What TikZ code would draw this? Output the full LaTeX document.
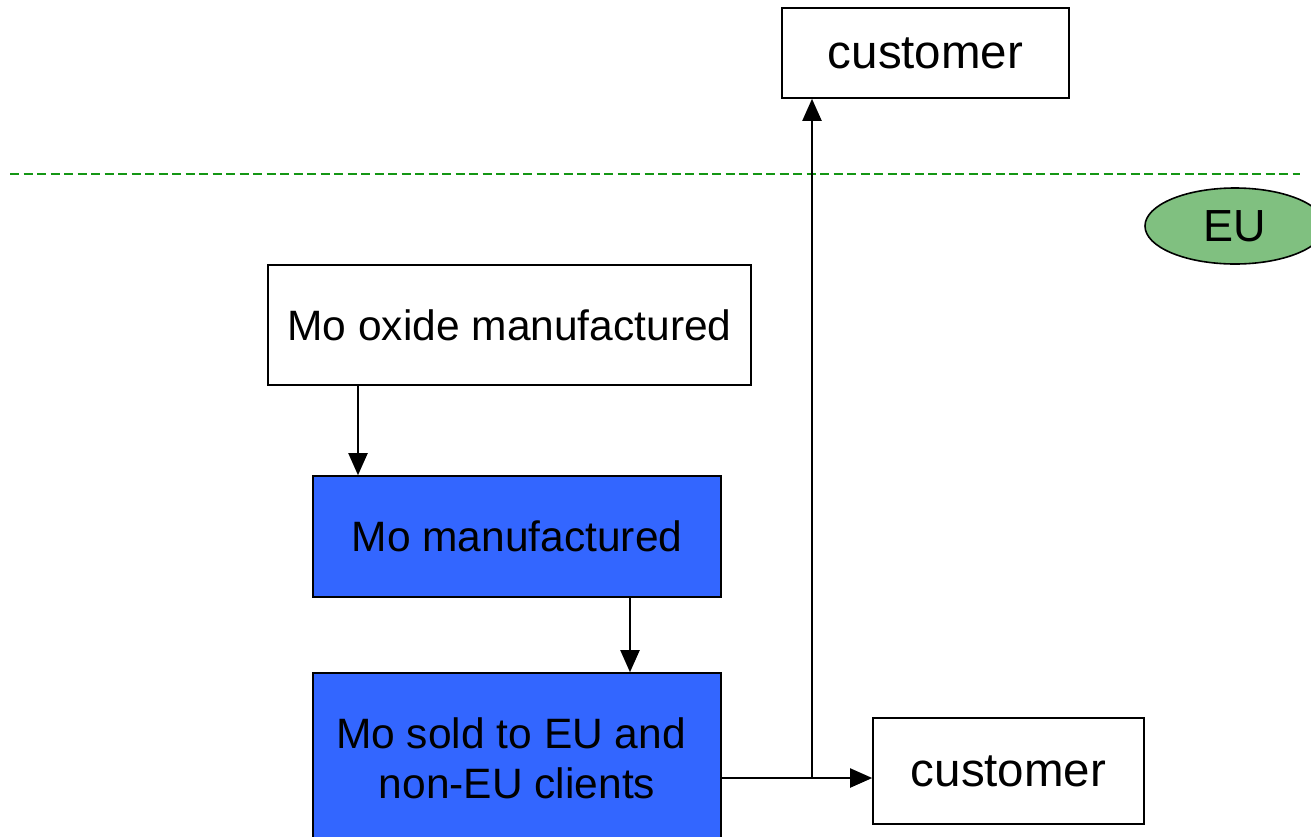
\documentclass[tikz,border=0pt]{standalone}
\usepackage{fontspec}
\setmainfont{Liberation Sans}
\usetikzlibrary{arrows.meta,shapes.geometric}
\definecolor{boxblue}{RGB}{51,102,255}
\definecolor{eugreen}{RGB}{128,192,128}
\definecolor{lineGreen}{RGB}{20,150,20}
\tikzset{
  box/.style={draw=black,line width=1.6pt,rectangle,inner sep=0pt,align=center,
    font=\fontsize{42.5}{50}\selectfont},
  bluebox/.style={box,fill=boxblue},
  arr/.style={line width=2pt,-{Triangle[length=22pt,width=19pt]}},
}
\begin{document}
\begin{tikzpicture}[x=1pt,y=-1pt]
\useasboundingbox (0,0) rectangle (1311,836);
\clip (0,0) rectangle (1311,836);

% boundary of the EU
\draw[lineGreen,line width=2pt,dash pattern=on 9pt off 4.5pt] (10,174) -- (1300,174);
\node[ellipse,draw=black,line width=1.6pt,fill=eugreen,minimum width=180pt,minimum height=76pt,
  inner sep=0pt,font=\fontsize{45}{50}\selectfont] (eu) at (1235,226) {EU};

% process boxes
\node[box,minimum width=287pt,minimum height=90pt,font=\fontsize{47.5}{55}\selectfont] (custTop) at (925.5,53) {customer};
\node[box,minimum width=483pt,minimum height=120pt] (oxide) at (509.5,325) {Mo oxide manufactured};
\node[bluebox,minimum width=408pt,minimum height=121pt] (momanu) at (517,536.5) {Mo manufactured};
\node[bluebox,minimum width=408pt,minimum height=170pt,font=\fontsize{42.5}{50}\selectfont] (sold) at (517,758) {Mo sold to EU and\hspace*{12pt}\\ non-EU clients};
\node[box,minimum width=271pt,minimum height=106pt,font=\fontsize{47.5}{55}\selectfont] (custBot) at (1008.5,771) {customer};

% flows
\draw[arr] (oxide.south -| 358,0) -- (momanu.north -| 358,0);
\draw[arr] (momanu.south -| 630,0) -- (sold.north -| 630,0);
\coordinate (split) at (812,778);
\draw[arr] (sold.east |- split) -- (custBot.west |- split);
\draw[arr] (split) -- (custTop.south -| split);
\end{tikzpicture}
\end{document}
